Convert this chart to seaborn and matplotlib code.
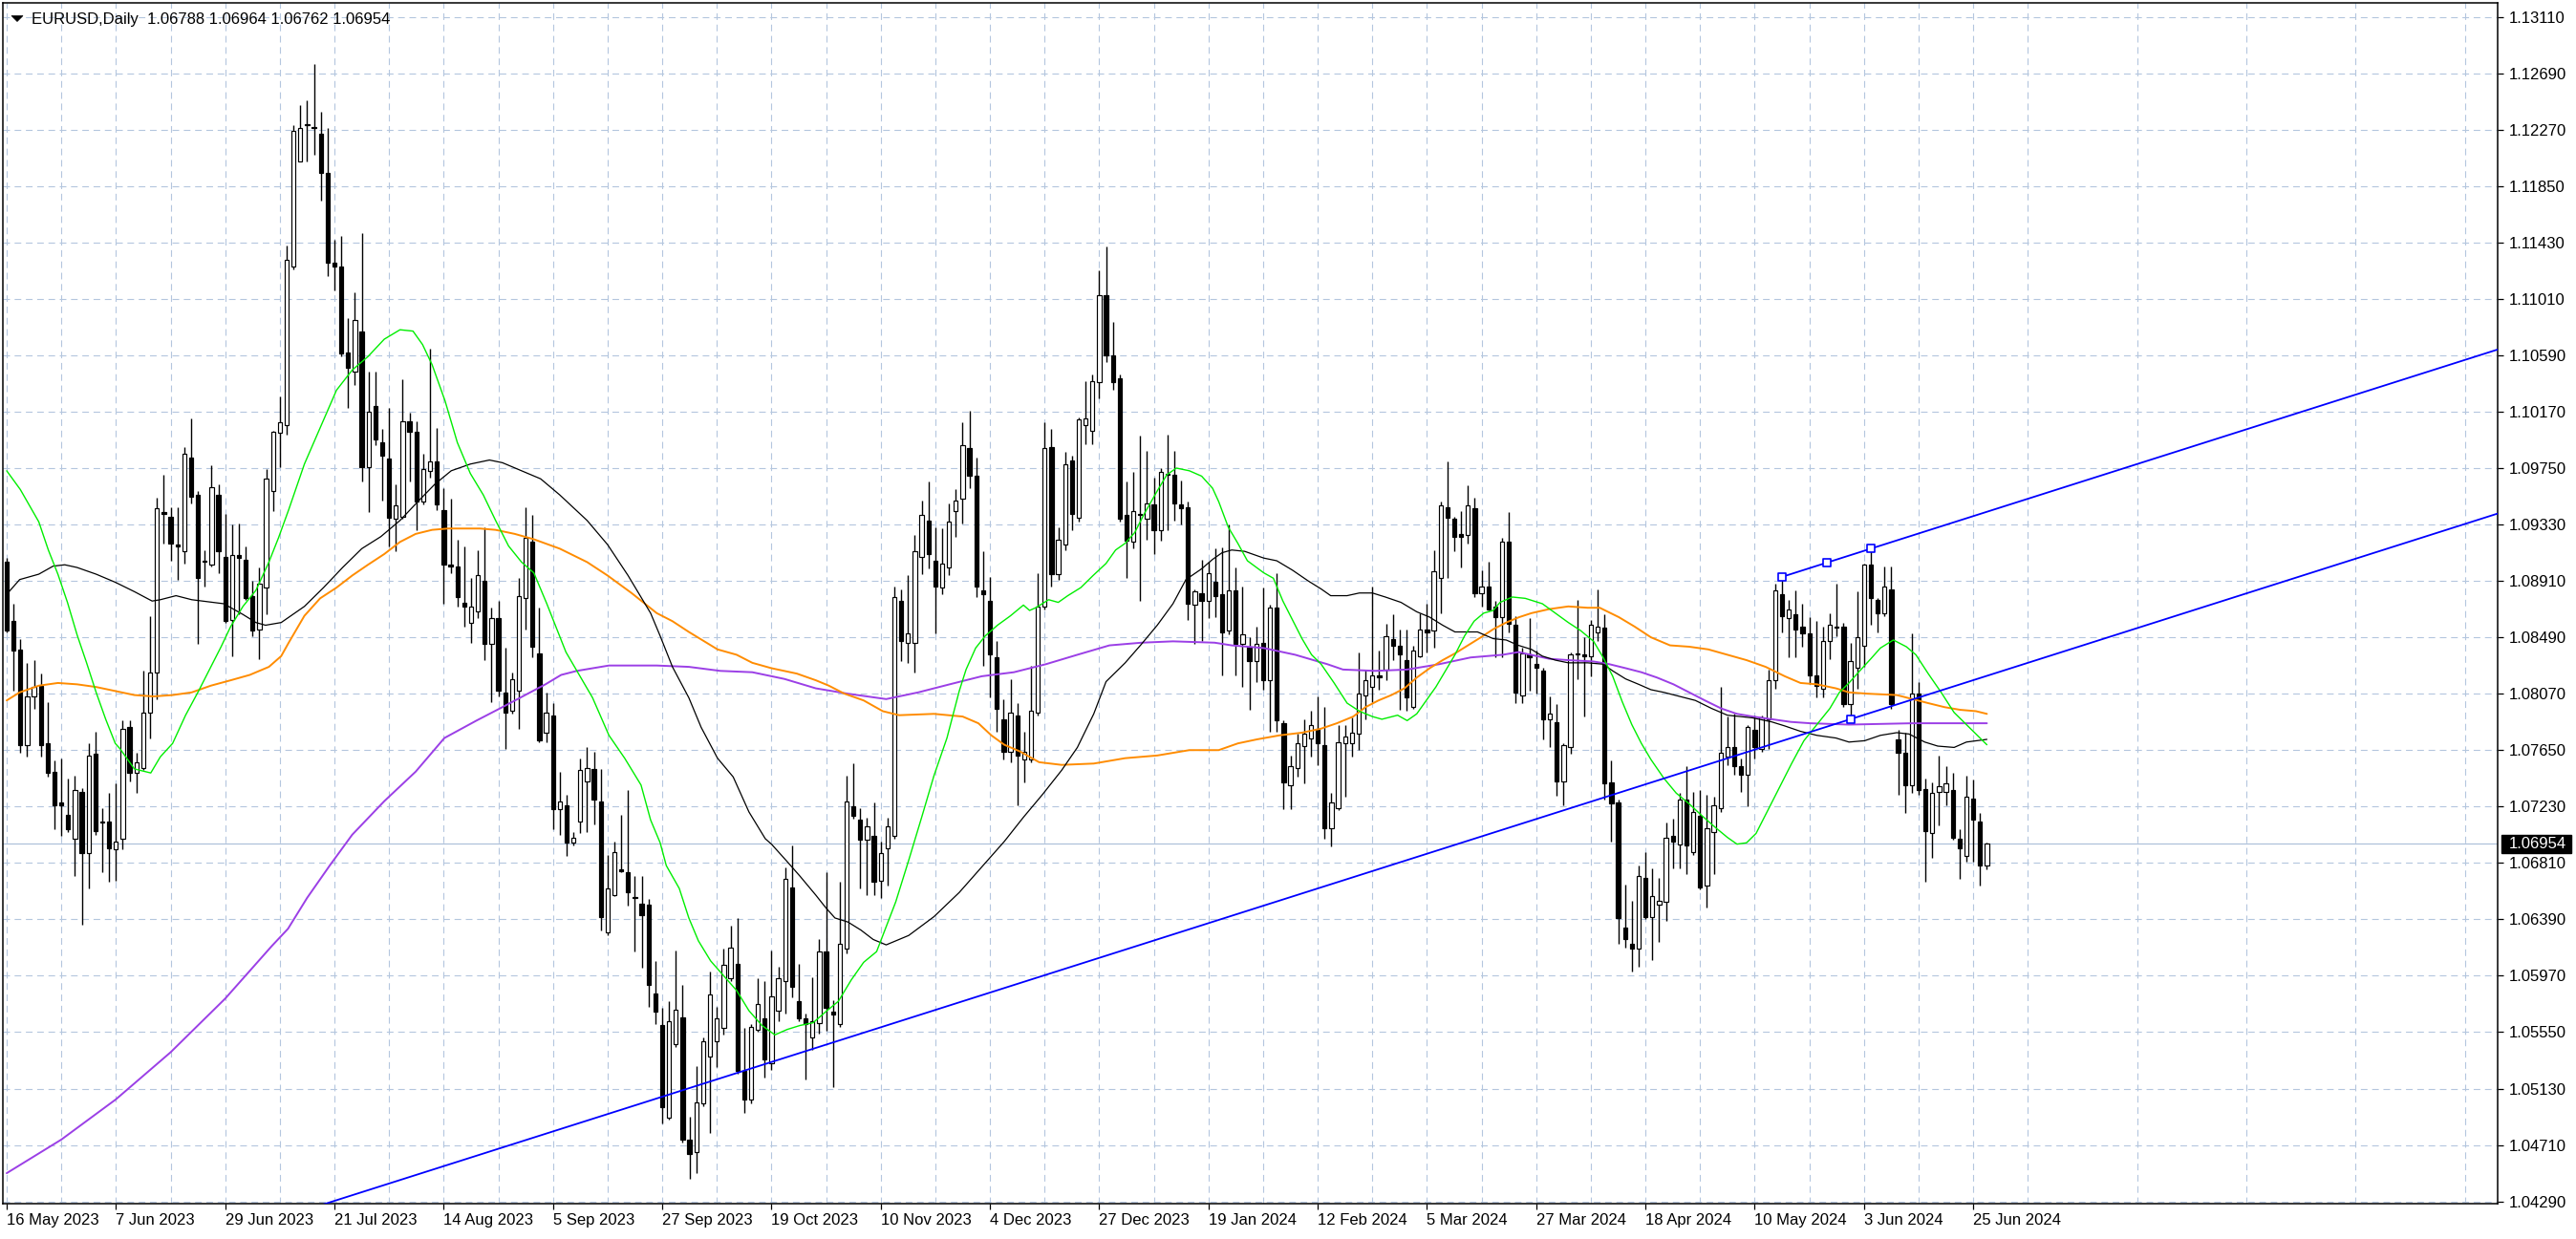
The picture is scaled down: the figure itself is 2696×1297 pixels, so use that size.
import numpy as np
import matplotlib
matplotlib.use("Agg")
import matplotlib.pyplot as plt
import seaborn as sns
from matplotlib.transforms import blended_transform_factory
from matplotlib.patches import Rectangle, Polygon

# ---------------- data ----------------
title_text = "EURUSD,Daily  1.06788 1.06964 1.06762 1.06954"
last_price_label = "1.06954"

date_labels = ["16 May 2023", "7 Jun 2023", "29 Jun 2023", "21 Jul 2023", "14 Aug 2023",
               "5 Sep 2023", "27 Sep 2023", "19 Oct 2023", "10 Nov 2023", "4 Dec 2023",
               "27 Dec 2023", "19 Jan 2024", "12 Feb 2024", "5 Mar 2024", "27 Mar 2024",
               "18 Apr 2024", "10 May 2024", "3 Jun 2024", "25 Jun 2024"]
date_bars = [0, 16, 32, 48, 64, 80, 96, 112, 128, 144, 160, 176, 192, 208, 224, 240, 256, 272, 288]
grid_bars = [8, 24, 40, 56, 72, 88, 104, 120, 136, 152, 168, 184, 200, 216, 232, 248, 264, 280,
             296, 312, 328, 344, 360]

price_ticks = [1.04290, 1.04710, 1.05130, 1.05550, 1.05970, 1.06390, 1.06810, 1.07230,
               1.07650, 1.08070, 1.08490, 1.08910, 1.09330, 1.09750, 1.10170, 1.10590,
               1.11010, 1.11430, 1.11850, 1.12270, 1.12690, 1.13110]

open_ = [
1.0905,1.0861,1.0840,1.0769,1.0805,1.0813,1.0770,1.0749,1.0726,1.0717,
1.0699,1.0734,1.0688,1.0762,1.0712,1.0712,1.0691,1.0699,1.0782,1.0748,
1.0752,1.0793,1.0823,1.0942,1.0939,1.0918,1.0913,1.0983,1.0955,1.0906,
1.0903,1.0955,1.0909,1.0862,1.0910,1.0907,1.0880,1.0855,1.0886,1.0958,
1.1001,1.1007,1.1125,1.1203,1.1231,1.1229,1.1224,1.1195,1.1128,1.1125,
1.1061,1.1047,1.1077,1.0976,1.1021,1.0994,1.0982,1.0937,1.0939,1.1010,
1.1002,1.0950,1.0973,1.0980,1.0944,1.0903,1.0902,1.0875,1.0860,1.0868,
1.0891,1.0844,1.0863,1.0808,1.0794,1.0809,1.0878,1.0920,1.0837,1.0778,
1.0791,1.0721,1.0724,1.0696,1.0712,1.0742,1.0751,1.0727,1.0629,1.0657,
1.0676,1.0674,1.0655,1.0651,1.0650,1.0584,1.0560,1.0491,1.0546,1.0566,
1.0475,1.0466,1.0502,1.0537,1.0548,1.0558,1.0595,1.0606,1.0526,1.0505,
1.0557,1.0565,1.0532,1.0571,1.0593,1.0663,1.0578,1.0565,1.0551,1.0562,
1.0615,1.0570,1.0561,1.0617,1.0723,1.0713,1.0698,1.0701,1.0668,1.0692,
1.0701,1.0876,1.0845,1.0845,1.0909,1.0936,1.0906,1.0886,1.0901,1.0943,
1.0952,1.0990,1.0969,1.0884,1.0876,1.0834,1.0788,1.0764,1.0791,1.0758,
1.0758,1.0793,1.0872,1.0991,1.0896,1.0918,1.0981,1.0938,1.1007,1.1003,
1.1039,1.1104,1.1059,1.1042,1.0940,1.0920,1.0941,1.0937,1.0948,1.0929,
1.0971,1.0970,1.0948,1.0946,1.0873,1.0882,1.0876,1.0890,1.0881,1.0854,
1.0884,1.0844,1.0842,1.0831,1.0845,1.0817,1.0871,1.0785,1.0739,1.0752,
1.0768,1.0774,1.0781,1.0769,1.0707,1.0722,1.0770,1.0770,1.0777,1.0806,
1.0812,1.0821,1.0825,1.0848,1.0843,1.0832,1.0797,1.0835,1.0855,1.0854,
1.0893,1.0946,1.0937,1.0926,1.0925,1.0945,1.0882,1.0887,1.0872,1.0864,
1.0920,1.0858,1.0806,1.0836,1.0829,1.0824,1.0788,1.0786,1.0742,1.0767,
1.0836,1.0836,1.0835,1.0853,1.0856,1.0741,1.0726,1.0633,1.0621,1.0617,
1.0670,1.0641,1.0650,1.0652,1.0701,1.0695,1.0728,1.0689,1.0716,1.0664,
1.0704,1.0722,1.0760,1.0767,1.0753,1.0747,1.0780,1.0766,1.0788,1.0817,
1.0881,1.0863,1.0866,1.0857,1.0852,1.0821,1.0811,1.0846,1.0857,1.0857,
1.0799,1.0826,1.0843,1.0903,1.0877,1.0867,1.0885,1.0773,1.0763,1.0739,
1.0807,1.0736,1.0703,1.0734,1.0734,1.0735,1.0699,1.0686,1.0729,1.0712,
1.06788]

high = [
1.0908,1.0874,1.0848,1.0830,1.0832,1.0822,1.0801,1.0757,1.0759,1.0744,
1.0746,1.0737,1.0770,1.0779,1.0722,1.0733,1.0740,1.0787,1.0787,1.0763,
1.0824,1.0865,1.0953,1.0970,1.0946,1.0946,1.0991,1.1012,1.0958,1.0914,
1.0977,1.0963,1.0941,1.0933,1.0934,1.0917,1.0891,1.0901,1.0974,1.1003,
1.1028,1.1141,1.1230,1.1245,1.1249,1.1276,1.1240,1.1228,1.1145,1.1148,
1.1087,1.1106,1.1150,1.1047,1.1047,1.1004,1.1020,1.0963,1.1041,1.1016,
1.1010,1.0986,1.1064,1.1005,1.0960,1.0952,1.0922,1.0917,1.0893,1.0914,
1.0931,1.0871,1.0876,1.0841,1.0823,1.0893,1.0946,1.0940,1.0871,1.0808,
1.0800,1.0749,1.0732,1.0704,1.0759,1.0767,1.0764,1.0751,1.0687,1.0697,
1.0717,1.0735,1.0671,1.0671,1.0654,1.0608,1.0573,1.0578,1.0616,1.0590,
1.0492,1.0530,1.0551,1.0600,1.0574,1.0617,1.0634,1.0640,1.0558,1.0561,
1.0595,1.0593,1.0616,1.0604,1.0678,1.0694,1.0606,1.0569,1.0596,1.0624,
1.0674,1.0579,1.0667,1.0746,1.0755,1.0722,1.0715,1.0726,1.0697,1.0715,
1.0887,1.0885,1.0895,1.0925,1.0951,1.0965,1.0931,1.0930,1.0949,1.0959,
1.1009,1.1018,1.0983,1.0913,1.0894,1.0846,1.0803,1.0818,1.0800,1.0779,
1.0828,1.0897,1.1009,1.1004,1.0931,1.0987,1.0984,1.1013,1.1040,1.1045,
1.1122,1.1140,1.1084,1.1045,1.0965,1.0972,1.0999,1.0988,1.0968,1.0975,
1.1000,1.0988,1.0966,1.0950,1.0885,1.0907,1.0905,1.0915,1.0916,1.0933,
1.0901,1.0887,1.0849,1.0857,1.0886,1.0873,1.0897,1.0787,1.0761,1.0777,
1.0788,1.0794,1.0805,1.0797,1.0733,1.0784,1.0784,1.0789,1.0838,1.0825,
1.0887,1.0839,1.0859,1.0866,1.0855,1.0855,1.0843,1.0867,1.0874,1.0914,
1.0950,1.0980,1.0939,1.0943,1.0962,1.0953,1.0899,1.0905,1.0876,1.0923,
1.0942,1.0865,1.0841,1.0863,1.0839,1.0826,1.0805,1.0799,1.0770,1.0838,
1.0877,1.0849,1.0862,1.0885,1.0866,1.0757,1.0728,1.0665,1.0653,1.0679,
1.0689,1.0677,1.0670,1.0711,1.0714,1.0733,1.0753,1.0734,1.0735,1.0732,
1.0730,1.0812,1.0790,1.0792,1.0759,1.0784,1.0791,1.0791,1.0825,1.0889,
1.0893,1.0877,1.0884,1.0874,1.0864,1.0861,1.0857,1.0867,1.0889,1.0860,
1.0845,1.0883,1.0904,1.0915,1.0878,1.0902,1.0902,1.0780,1.0778,1.0852,
1.0816,1.0744,1.0741,1.0761,1.0753,1.0748,1.0706,1.0746,1.0743,1.0718,
1.06964]

low = [
1.0853,1.0809,1.0763,1.0760,1.0796,1.0760,1.0745,1.0706,1.0701,1.0704,
1.0671,1.0635,1.0662,1.0702,1.0674,1.0667,1.0668,1.0691,1.0742,1.0733,
1.0750,1.0774,1.0803,1.0919,1.0906,1.0892,1.0904,1.0949,1.0844,1.0887,
1.0902,1.0897,1.0860,1.0835,1.0866,1.0877,1.0850,1.0833,1.0866,1.0943,
1.0976,1.1000,1.1123,1.1203,1.1203,1.1208,1.1174,1.1118,1.1107,1.1058,
1.1020,1.1037,1.0965,1.0942,1.0992,1.0951,1.0917,1.0913,1.0937,1.0965,
1.0929,1.0948,1.0968,1.0944,1.0874,1.0897,1.0872,1.0857,1.0845,1.0863,
1.0832,1.0801,1.0805,1.0766,1.0792,1.0781,1.0855,1.0834,1.0771,1.0771,
1.0706,1.0702,1.0686,1.0694,1.0703,1.0704,1.0710,1.0631,1.0627,1.0656,
1.0674,1.0649,1.0615,1.0603,1.0574,1.0561,1.0487,1.0490,1.0544,1.0473,
1.0446,1.0450,1.0500,1.0480,1.0529,1.0553,1.0593,1.0524,1.0495,1.0502,
1.0555,1.0521,1.0527,1.0563,1.0569,1.0581,1.0563,1.0520,1.0542,1.0554,
1.0556,1.0514,1.0559,1.0614,1.0714,1.0662,1.0657,1.0657,1.0655,1.0664,
1.0699,1.0831,1.0830,1.0823,1.0896,1.0900,1.0852,1.0881,1.0895,1.0924,
1.0934,1.0960,1.0879,1.0828,1.0804,1.0779,1.0758,1.0756,1.0724,1.0741,
1.0756,1.0791,1.0870,1.0887,1.0892,1.0914,1.0929,1.0935,1.0993,1.0993,
1.1027,1.1054,1.1033,1.0935,1.0893,1.0915,1.0876,1.0922,1.0911,1.0921,
1.0929,1.0936,1.0933,1.0862,1.0844,1.0846,1.0863,1.0864,1.0821,1.0851,
1.0821,1.0812,1.0795,1.0816,1.0810,1.0779,1.0779,1.0721,1.0721,1.0745,
1.0740,1.0760,1.0754,1.0699,1.0693,1.0720,1.0730,1.0760,1.0765,1.0788,
1.0801,1.0810,1.0817,1.0832,1.0795,1.0794,1.0796,1.0834,1.0838,1.0841,
1.0867,1.0893,1.0913,1.0901,1.0919,1.0879,1.0872,1.0869,1.0834,1.0834,
1.0853,1.0800,1.0800,1.0809,1.0807,1.0773,1.0767,1.0731,1.0724,1.0762,
1.0818,1.0790,1.0820,1.0846,1.0728,1.0697,1.0621,1.0618,1.0600,1.0604,
1.0639,1.0609,1.0622,1.0638,1.0677,1.0677,1.0673,1.0687,1.0661,1.0648,
1.0673,1.0719,1.0754,1.0747,1.0734,1.0723,1.0759,1.0764,1.0766,1.0811,
1.0853,1.0834,1.0834,1.0842,1.0814,1.0804,1.0804,1.0833,1.0850,1.0797,
1.0788,1.0811,1.0827,1.0858,1.0853,1.0865,1.0796,1.0732,1.0718,1.0733,
1.0732,1.0667,1.0685,1.0709,1.0724,1.0698,1.0669,1.0682,1.0682,1.0664,
1.06762]

close = [
1.0854,1.0839,1.0769,1.0805,1.0812,1.0769,1.0748,1.0724,1.0724,1.0706,
1.0735,1.0688,1.0761,1.0705,1.0711,1.0692,1.0697,1.0781,1.0748,1.0756,
1.0793,1.0823,1.0945,1.0941,1.0919,1.0917,1.0986,1.0954,1.0893,1.0905,
1.0961,1.0913,1.0861,1.0910,1.0908,1.0878,1.0854,1.0889,1.0967,1.1002,
1.1009,1.1130,1.1226,1.1228,1.1230,1.1228,1.1195,1.1128,1.1125,1.1060,
1.1050,1.1085,1.0976,1.1017,1.0996,1.0984,1.0938,1.0947,1.1010,1.1002,
1.0950,1.0974,1.0980,1.0948,1.0903,1.0902,1.0879,1.0872,1.0872,1.0895,
1.0844,1.0863,1.0809,1.0793,1.0818,1.0880,1.0923,1.0842,1.0772,1.0793,
1.0721,1.0727,1.0696,1.0700,1.0750,1.0752,1.0728,1.0641,1.0662,1.0689,
1.0675,1.0659,1.0655,1.0642,1.0590,1.0570,1.0499,1.0563,1.0572,1.0475,
1.0464,1.0503,1.0548,1.0583,1.0565,1.0605,1.0618,1.0526,1.0505,1.0559,
1.0576,1.0535,1.0582,1.0595,1.0669,1.0589,1.0565,1.0561,1.0563,1.0615,
1.0573,1.0568,1.0621,1.0727,1.0716,1.0698,1.0708,1.0667,1.0688,1.0708,
1.0879,1.0846,1.0852,1.0913,1.0940,1.0911,1.0887,1.0904,1.0935,1.0951,
1.0992,1.0969,1.0887,1.0881,1.0836,1.0796,1.0764,1.0793,1.0761,1.0764,
1.0794,1.0872,1.0990,1.0896,1.0922,1.0978,1.0941,1.1011,1.1012,1.1040,
1.1104,1.1059,1.1039,1.0937,1.0921,1.0943,1.0940,1.0949,1.0929,1.0972,
1.0970,1.0949,1.0945,1.0874,1.0883,1.0876,1.0897,1.0880,1.0853,1.0884,
1.0844,1.0851,1.0831,1.0844,1.0817,1.0871,1.0787,1.0741,1.0753,1.0770,
1.0777,1.0784,1.0770,1.0707,1.0726,1.0771,1.0775,1.0778,1.0807,1.0817,
1.0821,1.0819,1.0850,1.0843,1.0836,1.0804,1.0839,1.0855,1.0853,1.0898,
1.0947,1.0938,1.0924,1.0924,1.0947,1.0882,1.0887,1.0870,1.0864,1.0920,
1.0859,1.0808,1.0837,1.0834,1.0826,1.0788,1.0792,1.0742,1.0769,1.0836,
1.0837,1.0835,1.0858,1.0857,1.0740,1.0725,1.0640,1.0624,1.0617,1.0671,
1.0641,1.0656,1.0653,1.0700,1.0697,1.0728,1.0694,1.0719,1.0663,1.0707,
1.0724,1.0763,1.0767,1.0753,1.0747,1.0782,1.0767,1.0789,1.0817,1.0884,
1.0865,1.0870,1.0855,1.0852,1.0821,1.0813,1.0846,1.0858,1.0856,1.0799,
1.0831,1.0849,1.0903,1.0878,1.0867,1.0887,1.0799,1.0763,1.0739,1.0807,
1.0735,1.0705,1.0733,1.0738,1.0740,1.0700,1.0692,1.0730,1.0713,1.0679,
1.06954]

# moving averages, sampled along the drawn curves (bar position, price)
green_x = [0, 2, 4.7, 6.1, 7.5, 8.9, 10.3, 11.7, 13.1, 14.5, 15.9, 16.6, 18.7, 21.1, 22.5, 24.3, 26.2, 28.1,
           29.9, 31.4, 32.8, 34.6, 36.5, 38.4, 39.8, 41.3, 43.6, 45.9, 48.3, 50.6, 52.9, 55.3, 57.6, 59.5,
           60.9, 62.3, 64.2, 66.0, 67.9, 69.8, 71.6, 73.5, 75.4, 77.2, 79.1, 81.9, 85.8, 88.2, 90.5, 92.9,
           94.3, 95.7, 96.6, 98.5, 99.9, 101.3, 103.1, 105.0, 106.9, 108.7, 110.6, 112.5, 114.3, 116.2,
           118.1, 119.9, 121.8, 123.7, 125.5, 127.4, 130.2, 132.1, 134.0, 135.8, 137.7, 139.5, 140.5,
           141.9, 143.3, 145.1, 147.0, 148.9, 149.8, 150.7, 152.6, 154.0, 155.4, 157.3, 159.1, 161.0,
           162.4, 163.8, 165.2, 166.6, 168.5, 169.9, 171.3, 173.2, 175.0, 176.6, 177.5, 178.9, 180.3,
           181.7, 184.1, 185.5, 186.9, 188.3, 189.7, 191.1, 192.5, 194.4, 196.3, 198.1, 200.0, 201.4,
           203.7, 205.1, 206.5, 207.9, 209.3, 210.7, 212.1, 213.5, 214.9, 216.3, 217.7, 218.7, 220.5,
           222.4, 224.9, 226.8, 228.7, 230.5, 232.4, 233.8, 235.2, 236.6, 238.0, 239.4, 240.8, 242.7,
           244.5, 246.4, 248.3, 250.1, 252.0, 253.4, 254.8, 256.2, 257.6, 259.5, 261.4, 263.2, 265.1,
           267.0, 268.4, 269.8, 271.2, 273.0, 274.4, 276.3, 278.2, 279.6, 281.4, 283.3, 285.2, 287.0,
           288.4, 290]
green_y = [1.0973, 1.0959, 1.0935, 1.0914, 1.0896, 1.0875, 1.0851, 1.0830, 1.0808, 1.0788, 1.0770, 1.0766,
           1.0751, 1.0748, 1.0760, 1.0770, 1.0791, 1.0809, 1.0827, 1.0842, 1.0857, 1.0872, 1.0884, 1.0905,
           1.0923, 1.0944, 1.0978, 1.1005, 1.1033, 1.1048, 1.1058, 1.1071, 1.1078, 1.1077, 1.1067, 1.1052,
           1.1025, 1.0994, 1.0971, 1.0955, 1.0936, 1.0917, 1.0905, 1.0897, 1.0874, 1.0838, 1.0804, 1.0776,
           1.0759, 1.0739, 1.0713, 1.0696, 1.0679, 1.0662, 1.0640, 1.0623, 1.0608, 1.0597, 1.0586, 1.0571,
           1.0560, 1.0553, 1.0557, 1.0560, 1.0562, 1.0570, 1.0578, 1.0594, 1.0607, 1.0615, 1.0652, 1.0683,
           1.0715, 1.0746, 1.0774, 1.0809, 1.0825, 1.0841, 1.0850, 1.0858, 1.0865, 1.0873, 1.0869, 1.0871,
           1.0877, 1.0875, 1.0880, 1.0886, 1.0895, 1.0904, 1.0914, 1.0919, 1.0927, 1.0941, 1.0958, 1.0970,
           1.0975, 1.0973, 1.0969, 1.0960, 1.0950, 1.0931, 1.0919, 1.0906, 1.0897, 1.0893, 1.0876, 1.0862,
           1.0848, 1.0836, 1.0829, 1.0815, 1.0800, 1.0794, 1.0790, 1.0788, 1.0791, 1.0787, 1.0792, 1.0802,
           1.0812, 1.0824, 1.0836, 1.0850, 1.0861, 1.0867, 1.0869, 1.0875, 1.0879, 1.0878, 1.0874, 1.0867,
           1.0860, 1.0854, 1.0846, 1.0834, 1.0820, 1.0801, 1.0784, 1.0770, 1.0758, 1.0744, 1.0733, 1.0725,
           1.0716, 1.0708, 1.0700, 1.0695, 1.0696, 1.0703, 1.0717, 1.0736, 1.0755, 1.0772, 1.0784, 1.0796,
           1.0808, 1.0815, 1.0823, 1.0833, 1.0841, 1.0847, 1.0842, 1.0836, 1.0822, 1.0808, 1.0793, 1.0784,
           1.0777, 1.0769]

black_x = [0, 1.9, 4.7, 6.8, 8.5, 10.3, 13.1, 15.9, 18.7, 21.3, 22.5, 24.8, 27.1, 31.8, 34.6, 36.5, 37.9,
           40.2, 43.6, 46.4, 49.2, 52.0, 54.8, 57.6, 60.4, 62.7, 65.1, 67.9, 70.7, 72.6, 75.4, 78.2, 81.0,
           85, 88, 91, 94.3, 95.7, 97.5, 99.9, 101.7, 104.1, 106.4, 108.7, 111.1, 112.0, 114.3, 116.2,
           118.5, 119.9, 121.3, 123.2, 125.1, 126.9, 128.8, 132.1, 135.8, 139.5, 142.8, 146.1, 148.9,
           151.7, 154.5, 156.8, 159.2, 161.0, 163.8, 166.2, 168.5, 170.8, 172.7, 175.0, 176.6, 178.0,
           179.4, 181.3, 184.1, 186.0, 188.3, 190.6, 192.5, 193.9, 196.3, 198.1, 200.0, 201.9, 204.2,
           206.5, 208.4, 210.3, 212.1, 215.4, 217.7, 219.6, 221.4, 223.3, 224.9, 226.8, 228.7, 231.5,
           233.8, 235.2, 237.1, 239.0, 240.8, 242.7, 245.0, 247.3, 249.7, 252.0, 253.9, 255.7, 258.5,
           260.4, 262.7, 265.1, 267.9, 269.8, 272.1, 274.4, 276.8, 278.6, 280.9, 282.8, 285.2, 287.0, 290]
black_y = [1.0881, 1.0892, 1.0896, 1.0902, 1.0903, 1.0901, 1.0896, 1.0890, 1.0883, 1.0876, 1.0877, 1.0880,
           1.0877, 1.0874, 1.0866, 1.0860, 1.0858, 1.0860, 1.0872, 1.0886, 1.0901, 1.0915, 1.0924, 1.0936,
           1.0951, 1.0963, 1.0973, 1.0978, 1.0981, 1.0979, 1.0973, 1.0967, 1.0955, 1.0936, 1.0918, 1.0895,
           1.0867, 1.0850, 1.0827, 1.0804, 1.0782, 1.0759, 1.0745, 1.0719, 1.0699, 1.0695, 1.0682, 1.0671,
           1.0657, 1.0648, 1.0640, 1.0637, 1.0631, 1.0624, 1.0620, 1.0627, 1.0641, 1.0659, 1.0678, 1.0697,
           1.0715, 1.0732, 1.0750, 1.0767, 1.0792, 1.0816, 1.0830, 1.0844, 1.0858, 1.0874, 1.0892, 1.0900,
           1.0907, 1.0912, 1.0914, 1.0913, 1.0908, 1.0906, 1.0899, 1.0891, 1.0885, 1.0880, 1.0880, 1.0882,
           1.0882, 1.0879, 1.0875, 1.0868, 1.0864, 1.0858, 1.0853, 1.0853, 1.0848, 1.0847, 1.0843, 1.0840,
           1.0835, 1.0832, 1.0830, 1.0830, 1.0829, 1.0824, 1.0818, 1.0814, 1.0810, 1.0808, 1.0805, 1.0802,
           1.0796, 1.0791, 1.0790, 1.0789, 1.0786, 1.0783, 1.0779, 1.0776, 1.0774, 1.0771, 1.0772, 1.0776,
           1.0778, 1.0777, 1.0771, 1.0768, 1.0767, 1.0771, 1.0773]

orange_x = [0, 1.9, 4.7, 7.5, 10.3, 13.1, 15.9, 18.7, 21.5, 24.3, 27.1, 29.9, 32.8, 35.6, 38.4, 40.2, 41.3,
            43.6, 45.9, 48.3, 50.6, 52.9, 55.3, 57.6, 59.9, 62.3, 64.6, 69.3, 71.6, 74.4, 77.2, 81.0, 85,
            88, 91.5, 95.2, 97.5, 99.9, 104.1, 106.9, 109.2, 112.0, 115.7, 118.5, 120.4, 122.7, 125.5,
            128.3, 130.7, 135.8, 140.0, 142.3, 144.2, 146.1, 148.4, 151.2, 154.5, 159.2, 163.8, 168.5,
            173.2, 177.5, 180.3, 183.1, 186.4, 189.7, 192.5, 194.8, 197.2, 199.0, 200.9, 202.8, 204.7,
            206.5, 208.4, 210.3, 212.1, 214.0, 215.9, 217.7, 219.6, 221.5, 223.3, 225.9, 228.7, 231.5,
            233.3, 236.1, 238.4, 240.8, 243.6, 246.4, 249.2, 252.0, 254.8, 257.6, 260.4, 262.7, 265.1,
            267.9, 269.8, 272.6, 276.8, 279.1, 281.4, 283.8, 286.1, 288.4, 290]
orange_y = [1.0802, 1.0808, 1.0813, 1.0815, 1.0814, 1.0812, 1.0809, 1.0806, 1.0805, 1.0806, 1.0808, 1.0813,
            1.0817, 1.0821, 1.0827, 1.0835, 1.0845, 1.0865, 1.0878, 1.0886, 1.0895, 1.0903, 1.0911, 1.0920,
            1.0926, 1.0929, 1.0930, 1.0930, 1.0929, 1.0926, 1.0922, 1.0915, 1.0905, 1.0895, 1.0882, 1.0867,
            1.0861, 1.0853, 1.0840, 1.0836, 1.0830, 1.0826, 1.0822, 1.0817, 1.0813, 1.0807, 1.0802, 1.0794,
            1.0791, 1.0792, 1.0790, 1.0785, 1.0776, 1.0769, 1.0764, 1.0756, 1.0754, 1.0755, 1.0759, 1.0761,
            1.0765, 1.0765, 1.0770, 1.0773, 1.0776, 1.0778, 1.0781, 1.0785, 1.0790, 1.0797, 1.0802, 1.0806,
            1.0811, 1.0819, 1.0826, 1.0832, 1.0837, 1.0843, 1.0849, 1.0855, 1.0860, 1.0864, 1.0867, 1.0870,
            1.0872, 1.0871, 1.0871, 1.0864, 1.0857, 1.0849, 1.0843, 1.0842, 1.0840, 1.0836, 1.0832, 1.0827,
            1.0820, 1.0815, 1.0814, 1.0811, 1.0808, 1.0807, 1.0806, 1.0803, 1.0800, 1.0797, 1.0795, 1.0794,
            1.0792]

purple_x = [0, 8, 16, 24, 32, 38.8, 41.2, 44, 47.3, 50.6, 55.3, 59.9, 64.1, 68.8, 72.6, 76.3, 78.9, 81.2,
            83.5, 88.2, 95.2, 99.9, 104.5, 109.2, 113.9, 118.5, 123.2, 128.8, 133.5, 138.1, 142.8, 147.5,
            152.2, 156.8, 161.5, 166.2, 170.8, 176.9, 179.4, 184.1, 188.7, 193.4, 195.7, 200.4, 205.1,
            209.8, 214.4, 219.1, 221.4, 225.9, 228.7, 232.4, 234.7, 237.1, 239.4, 241.7, 244.1, 246.4,
            248.7, 251.1, 253.4, 255.7, 258.5, 261.3, 264.1, 269.8, 279.1, 290]
purple_y = [1.0450, 1.0475, 1.0505, 1.0540, 1.0580, 1.0619, 1.0632, 1.0655, 1.0679, 1.0702, 1.0727, 1.0749,
            1.0774, 1.0787, 1.0797, 1.0807, 1.0814, 1.0821, 1.0824, 1.0828, 1.0828, 1.0827, 1.0824, 1.0823,
            1.0818, 1.0811, 1.0807, 1.0803, 1.0808, 1.0814, 1.0820, 1.0823, 1.0829, 1.0836, 1.0843, 1.0845,
            1.0846, 1.0845, 1.0843, 1.0841, 1.0836, 1.0829, 1.0825, 1.0824, 1.0825, 1.0829, 1.0834, 1.0836,
            1.0838, 1.0833, 1.0832, 1.0831, 1.0829, 1.0826, 1.0823, 1.0819, 1.0814, 1.0808, 1.0802, 1.0796,
            1.0792, 1.0790, 1.0788, 1.0786, 1.0785, 1.0784, 1.0785, 1.0785]

# equidistant channel anchors (bar, price)
chan_main_x = [260, 273]
chan_main_y = [1.0894, 1.0915]
chan_mid_x = 266.5
chan_par_x = 270
chan_par_y = 1.0788

# ---------------- style / layout ----------------
sns.set_theme(style="white")
plt.rcParams["font.family"] = ["Liberation Sans", "DejaVu Sans"]
plt.rcParams["lines.scale_dashes"] = False

W, H = 2696, 1297
fig = plt.figure(figsize=(W / 100, H / 100), dpi=100, facecolor="white")
L_px, R_px, T_px, B_px = 3, 2614, 3, 1260
ax = fig.add_axes([L_px / W, 1 - B_px / H, (R_px - L_px) / W, (B_px - T_px) / H])
ax.set_facecolor("white")

x_left, x_right = -0.56, 364.8
ax.set_xlim(x_left, x_right)
ax.set_ylim(1.04273, 1.13214)

grid_col = "#b4c6de"
dash = (0, (5, 3.5))
ax.set_axisbelow(True)
ax.set_yticks(price_ticks)
ax.set_yticklabels([f"{p:.5f}" for p in price_ticks])
ax.set_xticks(date_bars)
ax.set_xticklabels(date_labels, ha="left")
ax.set_xticks(grid_bars, minor=True)
ax.grid(True, axis="y", which="major", color=grid_col, linestyle=dash, linewidth=0.8)
ax.grid(True, axis="x", which="both", color=grid_col, linestyle=dash, linewidth=0.8)

ax.yaxis.tick_right()
ax.tick_params(axis="y", which="major", direction="out", length=4.3, width=0.9, pad=4.3,
               labelsize=12, colors="black", right=True, left=False)
ax.tick_params(axis="x", which="major", direction="out", length=4.3, width=0.9, pad=2.8,
               labelsize=12, colors="black", bottom=True)
ax.tick_params(axis="x", which="minor", length=0)
for s in ax.spines.values():
    s.set_visible(True)
    s.set_color("black")
    s.set_linewidth(1.1)

# current price line
ax.axhline(close[-1], color="#a9bdd8", linewidth=0.8, zorder=1)

# ---------------- candles ----------------
o = np.array(open_); h = np.array(high); l = np.array(low); c = np.array(close)
xs = np.arange(len(o))
up = c >= o
body_lo = np.minimum(o, c)
body_h = np.maximum(np.abs(c - o), 0.00003)
ax.vlines(xs, l, h, color="black", linewidth=1.0, zorder=3)
ax.bar(xs[up], body_h[up], bottom=body_lo[up], width=0.6, facecolor="white",
       edgecolor="black", linewidth=0.85, zorder=4)
ax.bar(xs[~up], body_h[~up], bottom=body_lo[~up], width=0.6, facecolor="black",
       edgecolor="black", linewidth=0.85, zorder=4)

# ---------------- moving averages ----------------
common = dict(ax=ax, sort=False, estimator=None, legend=False)
sns.lineplot(x=purple_x, y=purple_y, color="#9b3fe6", linewidth=1.4, zorder=5, **common)
sns.lineplot(x=orange_x, y=orange_y, color="#ff8c00", linewidth=1.4, zorder=5, **common)
sns.lineplot(x=black_x, y=black_y, color="black", linewidth=0.9, zorder=5, **common)
sns.lineplot(x=green_x, y=green_y, color="#00ee00", linewidth=1.0, zorder=5, **common)

# ---------------- equidistant channel ----------------
slope = (chan_main_y[1] - chan_main_y[0]) / (chan_main_x[1] - chan_main_x[0])
up_x = [chan_main_x[0], x_right + 2]
up_y = [chan_main_y[0], chan_main_y[0] + slope * (up_x[1] - chan_main_x[0])]
lo_x = [0, x_right + 2]
lo_y = [chan_par_y + slope * (v - chan_par_x) for v in lo_x]
sns.lineplot(x=up_x, y=up_y, color="#0000ff", linewidth=1.3, zorder=6, **common)
sns.lineplot(x=lo_x, y=lo_y, color="#0000ff", linewidth=1.3, zorder=6, **common)
mk_x = [chan_main_x[0], chan_mid_x, chan_main_x[1], chan_par_x]
mk_y = [chan_main_y[0], chan_main_y[0] + slope * (chan_mid_x - chan_main_x[0]), chan_main_y[1],
        chan_par_y]
sns.scatterplot(x=mk_x, y=mk_y, ax=ax, marker="s", s=36, facecolor="white", edgecolor="#0000ff",
                linewidth=1.2, zorder=7, legend=False)

# ---------------- price label box ----------------
blend = blended_transform_factory(ax.transAxes, ax.transData)
ax_w = R_px - L_px
box_h = 19 / ((B_px - T_px) / (1.13214 - 1.04273))
ax.add_patch(Rectangle(((2618 - L_px) / ax_w, close[-1] - box_h / 2), 73 / ax_w, box_h,
                       transform=blend, facecolor="black", edgecolor="black", clip_on=False, zorder=10))
ax.text((2626 - L_px) / ax_w, close[-1], last_price_label, transform=blend, color="white",
        fontsize=12, ha="left", va="center", zorder=11, clip_on=False)

# ---------------- title ----------------
fig.patches.append(Polygon([[12 / W, 1 - 16.5 / H], [24 / W, 1 - 16.5 / H], [18 / W, 1 - 22.5 / H]],
                           closed=True, transform=fig.transFigure, facecolor="black",
                           edgecolor="black", linewidth=0.5))
fig.text(33 / W, 1 - 25 / H, title_text, fontsize=12, color="black", ha="left", va="baseline")

fig.savefig("out.png", dpi=100, facecolor="white")
